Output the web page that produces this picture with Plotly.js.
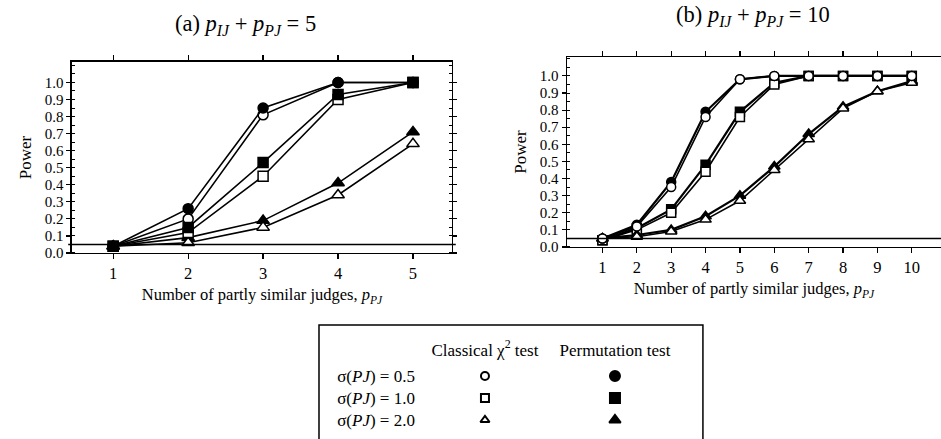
<!DOCTYPE html>
<html>
<head>
<meta charset="utf-8">
<script src="https://cdn.plot.ly/plotly-3.0.1.min.js"></script>
<style>html,body{margin:0;padding:0;background:#fff;overflow:hidden}</style>
</head>
<body>
<div id="chart" style="width:941px;height:439px"></div>
<script>
// ---- data ----
const xA = [1, 2, 3, 4, 5];
const permA05 = [0.04, 0.26, 0.85, 1.00, 1.00];
const clasA05 = [0.04, 0.20, 0.81, 1.00, 1.00];
const permA10 = [0.04, 0.15, 0.53, 0.93, 1.00];
const clasA10 = [0.04, 0.12, 0.45, 0.90, 1.00];
const permA20 = [0.04, 0.09, 0.19, 0.41, 0.71];
const clasA20 = [0.04, 0.06, 0.15, 0.34, 0.64];

const xB = [1, 2, 3, 4, 5, 6, 7, 8, 9, 10];
const permB05 = [0.05, 0.13, 0.38, 0.79, 0.98, 1.00, 1.00, 1.00, 1.00, 1.00];
const clasB05 = [0.05, 0.12, 0.35, 0.76, 0.98, 1.00, 1.00, 1.00, 1.00, 1.00];
const permB10 = [0.04, 0.11, 0.22, 0.48, 0.79, 0.96, 1.00, 1.00, 1.00, 1.00];
const clasB10 = [0.04, 0.10, 0.20, 0.44, 0.76, 0.95, 1.00, 1.00, 1.00, 1.00];
const permB20 = [0.05, 0.07, 0.10, 0.18, 0.30, 0.47, 0.66, 0.82, 0.91, 0.97];
const clasB20 = [0.05, 0.06, 0.09, 0.16, 0.27, 0.45, 0.63, 0.81, 0.91, 0.96];

const alphaLevel = 0.05;
const yTicks = [0, 0.1, 0.2, 0.3, 0.4, 0.5, 0.6, 0.7, 0.8, 0.9, 1.0];
const legendTests = ["Classical χ<sup>2</sup> test", "Permutation test"];
const legendSigmas = ["σ(<i>PJ</i>) = 0.5", "σ(<i>PJ</i>) = 1.0", "σ(<i>PJ</i>) = 2.0"];
const legendSymbols = ["circle", "square", "triangle-up"];

// ---- helpers ----
const FONT = "Liberation Serif, Times New Roman, serif";
function series(x, y, symbol, filled, xa, ya, lw, size) {
  return {
    type: "scatter", mode: "lines+markers", x: x, y: y, xaxis: xa, yaxis: ya,
    showlegend: false, hoverinfo: "skip",
    line: {color: "#000", width: lw},
    marker: {symbol: symbol, size: size, color: filled ? "#000" : "#fff",
             line: {color: "#000", width: 1.5}}
  };
}

const traces = [
  // panel (a)
  series(xA, permA20, "triangle-up", true, "x", "y", 1.6, 11),
  series(xA, clasA20, "triangle-up", false, "x", "y", 1.6, 11),
  series(xA, clasA05, "circle", false, "x", "y", 1.6, 10),
  series(xA, permA05, "circle", true, "x", "y", 1.6, 10),
  series(xA, clasA10, "square", false, "x", "y", 1.6, 10),
  series(xA, permA10, "square", true, "x", "y", 1.6, 10),
  // panel (b)
  series(xB, permB10, "square", true, "x2", "y2", 2.2, 9),
  series(xB, clasB10, "square", false, "x2", "y2", 1.6, 9),
  series(xB, permB20, "triangle-up", true, "x2", "y2", 2.2, 10),
  series(xB, clasB20, "triangle-up", false, "x2", "y2", 1.6, 10),
  series(xB, permB05, "circle", true, "x2", "y2", 2.2, 9),
  series(xB, clasB05, "circle", false, "x2", "y2", 1.6, 9)
];

// legend table symbols
legendSymbols.forEach(function (sym, i) {
  legendTests.forEach(function (t, j) {
    traces.push({
      type: "scatter", mode: "markers", x: [t], y: [legendSigmas[i]],
      xaxis: "x3", yaxis: "y3", showlegend: false, hoverinfo: "skip",
      marker: {symbol: sym, size: j === 0 ? 8 : 10, color: j === 0 ? "#fff" : "#000",
               line: {color: "#000", width: 2}}
    });
  });
});

const xFont = {family: FONT, size: 16.5, color: "#000"};
const yFont = {family: FONT, size: 15, color: "#000"};
function xAxis(domain, range, ticks, anchor, mirror) {
  return {
    domain: domain, range: range, anchor: anchor,
    tickmode: "array", tickvals: ticks, ticks: "outside", ticklen: 5, tickwidth: 1.2,
    tickcolor: "#000", showline: true, linecolor: "#000", linewidth: 1.5, mirror: mirror,
    showgrid: false, zeroline: false, tickfont: xFont, fixedrange: true
  };
}
function yAxis(domain, range, anchor, mirror) {
  return {
    domain: domain, range: range, anchor: anchor,
    tickmode: "array", tickvals: yTicks, tickformat: ".1f", ticks: "outside", ticklen: 4,
    tickwidth: 1.2, tickcolor: "#000",
    minor: {dtick: 0.05, tick0: 0, ticks: "inside", ticklen: 3, tickcolor: "#000", tickwidth: 1},
    showline: true, linecolor: "#000", linewidth: 1.5, mirror: mirror,
    showgrid: false, zeroline: false, tickfont: yFont, fixedrange: true
  };
}

const layout = {
  width: 941, height: 439,
  margin: {l: 0, r: 0, t: 0, b: 0},
  paper_bgcolor: "#fff", plot_bgcolor: "#fff",
  font: {family: FONT, color: "#000"},
  xaxis: Object.assign(xAxis([0.0765, 0.4803], [0.45, 5.52], xA, "y", "ticks"),
    {title: {text: "Number of partly similar judges, <i>p</i><sub><i>PJ</i></sub>",
             font: {family: FONT, size: 16.5}, standoff: 6}}),
  yaxis: Object.assign(yAxis([0.4237, 0.8588], [0, 1.12], "x", "ticks"),
    {title: {text: "Power", font: {family: FONT, size: 17}, standoff: 9}}),
  xaxis2: Object.assign(xAxis([0.6026, 1.0], [-0.03, 10.85], xB, "y2", "ticks"),
    {title: {text: "Number of partly similar judges, <i>p</i><sub><i>PJ</i></sub>",
             font: {family: FONT, size: 16.5}, standoff: 6}}),
  yaxis2: Object.assign(yAxis([0.4374, 0.870], [0, 1.11], "x2", false),
    {title: {text: "Power", font: {family: FONT, size: 17}, standoff: 9}}),
  xaxis3: {domain: [0.4463, 0.7226], anchor: "y3", side: "top", type: "category",
           categoryarray: legendTests, range: [-0.5, 1.5], showline: false, showgrid: false,
           zeroline: false, ticks: "", tickfont: {family: FONT, size: 17, color: "#000"},
           ticklabelstandoff: 5, fixedrange: true},
  yaxis3: {domain: [0.0182, 0.1686], anchor: "x3", type: "category",
           categoryarray: legendSigmas, range: [2.5, -0.5], showline: false, showgrid: false,
           zeroline: false, ticks: "", tickfont: {family: FONT, size: 17, color: "#000"},
           ticklabelstandoff: 4, fixedrange: true},
  shapes: [
    {type: "line", xref: "x domain", yref: "y", x0: -0.01, x1: 1.01, y0: alphaLevel, y1: alphaLevel,
     line: {color: "#000", width: 1.5}},
    {type: "line", xref: "x2 domain", yref: "y2", x0: 0, x1: 1, y0: alphaLevel, y1: alphaLevel,
     line: {color: "#000", width: 1.5}},
    {type: "rect", xref: "paper", yref: "paper", x0: 0.339, x1: 0.747, y0: -0.05, y1: 0.2597,
     line: {color: "#000", width: 1.5}, fillcolor: "rgba(0,0,0,0)"}
  ],
  annotations: [
    {xref: "paper", yref: "paper", x: 245 / 941, y: 1 - 25 / 439, xanchor: "center", yanchor: "middle",
     showarrow: false, text: "(a) <i>p</i><sub><i>IJ</i></sub> + <i>p</i><sub><i>PJ</i></sub> = 5",
     font: {family: FONT, size: 22.5, color: "#000"}},
    {xref: "paper", yref: "paper", x: 753 / 941, y: 1 - 16 / 439, xanchor: "center", yanchor: "middle",
     showarrow: false, text: "(b) <i>p</i><sub><i>IJ</i></sub> + <i>p</i><sub><i>PJ</i></sub> = 10",
     font: {family: FONT, size: 22.5, color: "#000"}}
  ]
};

Plotly.newPlot("chart", traces, layout, {displayModeBar: false, staticPlot: true});
</script>
</body>
</html>
